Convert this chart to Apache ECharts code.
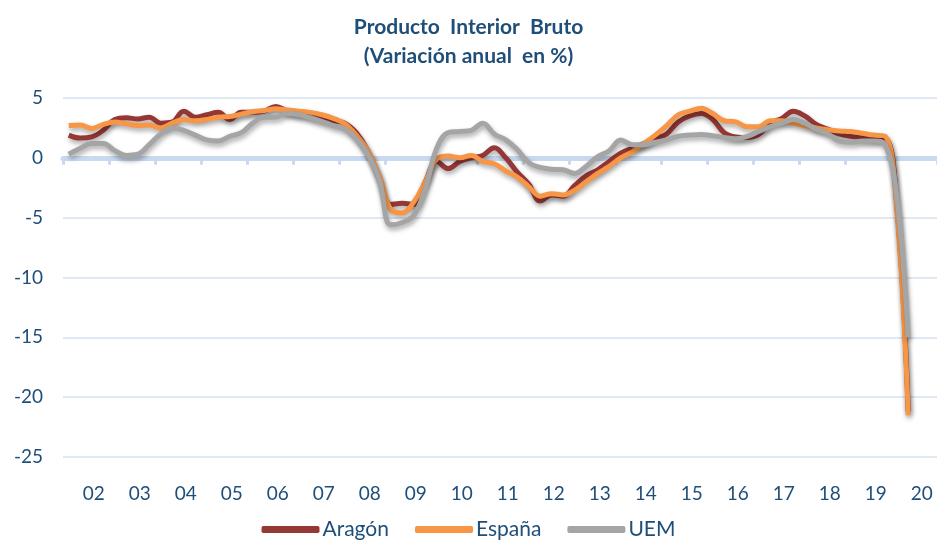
<!DOCTYPE html>
<html>
<head>
<meta charset="utf-8">
<script src="https://cdn.jsdelivr.net/npm/echarts@6/dist/echarts.min.js"></script>
<style>
  html,body{margin:0;padding:0;background:#fff}
  #myChart{width:937px;height:540px}
</style>
</head>
<body>
<div id="myChart"></div>
<script>
// años (etiquetas del eje) y trimestres 2002T1..2020T4
let years=['02','03','04','05','06','07','08','09','10','11','12','13','14','15','16','17','18','19','20']
let quarters=[]
years.forEach(y=>{
  for(let q=1;q<=4;q++) quarters.push(y+'T'+q)
})

// Variación anual en %, 2002T1 - 2020T2
let aragon=[
  1.9,1.65,1.75,2.3, 3.2,3.35,3.25,3.4, 2.9,3.0,3.9,3.4, 3.6,3.8,3.2,3.8,
  3.8,3.9,4.3,3.9, 3.7,3.55,3.3,3.1, 2.9,2.1,0.6,-1.7, -3.9,-3.8,-3.9,-2.0,
  -0.3,-0.9,-0.3,0.0, 0.2,0.85,0.0,-1.2, -2.2,-3.6,-3.1,-3.2, -2.3,-1.5,-1.0,-0.3,
  0.4,0.8,1.2,1.6, 2.0,3.0,3.5,3.7, 3.2,2.1,1.75,1.7, 1.95,2.9,3.3,3.9,
  3.5,2.8,2.4,2.0, 1.8,1.7,1.6,1.6, -3.8,-21.2
]
let espana=[
  2.7,2.75,2.45,2.8, 3.0,2.85,2.7,2.75, 2.5,2.9,3.2,3.1, 3.2,3.4,3.45,3.65,
  3.85,3.95,4.1,4.0, 3.9,3.8,3.6,3.3, 2.85,1.9,0.6,-1.5, -4.3,-4.6,-3.7,-2.0,
  -0.1,0.15,0.0,0.2, -0.3,-0.5,-1.1,-1.6, -2.4,-3.2,-3.0,-3.1, -2.7,-2.0,-1.3,-0.7,
  0.0,0.5,1.2,1.9, 2.7,3.6,3.9,4.15, 3.7,3.1,3.0,2.6, 2.6,3.1,3.1,2.9,
  2.7,2.5,2.35,2.25, 2.2,2.05,1.9,1.8, -4.2,-21.5
]
let uem=[
  0.3,0.8,1.2,1.2, 0.6,0.2,0.3,1.1, 2.0,2.5,2.3,1.9, 1.5,1.4,1.8,2.1,
  2.9,3.4,3.4,3.7, 3.6,3.35,3.05,2.7, 2.4,1.6,0.3,-1.8, -5.6,-5.4,-4.8,-2.6,
  0.8,2.1,2.2,2.3, 2.9,2.0,1.5,0.7, -0.4,-0.8,-0.95,-1.0, -1.3,-0.7,0.1,0.6,
  1.5,1.1,1.1,1.3, 1.5,1.8,1.9,1.95, 1.85,1.7,1.6,1.8, 2.2,2.6,2.9,3.2,
  2.9,2.4,2.0,1.4, 1.3,1.4,1.4,1.1, -3.2,-15.0
]

let azul='#1f4e79'
let sombra={shadowColor:'rgba(0,0,0,0.35)',shadowBlur:5,shadowOffsetX:1,shadowOffsetY:3}

let myChart=echarts.init(document.getElementById('myChart'))
let options={
  textStyle:{fontFamily:'Lato'},
  title:{
    text:'Producto  Interior  Bruto\n(Variación anual  en %)',
    left:'center',
    top:8,
    textStyle:{
      color:azul,
      fontSize:21,
      fontWeight:'bold',
      lineHeight:29,
      fontFamily:'Lato'
    }
  },
  legend:{
    bottom:-5,
    left:'center',
    itemWidth:58,
    itemHeight:7,
    itemGap:26,
    icon:'roundRect',
    textStyle:{color:azul,fontSize:21,padding:[0,0,0,-2]},
    data:['Aragón','España','UEM']
  },
  grid:{
    left:63,
    right:0,
    top:98,
    bottom:83
  },
  xAxis:[
    {
      type:'category',
      data:quarters,
      position:'bottom',
      boundaryGap:true,
      axisLine:{show:false,onZero:false},
      axisTick:{show:false},
      axisLabel:{
        color:azul,
        fontSize:19,
        margin:27,
        padding:[0,0,0,4],
        interval:(idx)=>idx%4===2,
        formatter:(v)=>v.slice(0,2)
      },
      splitLine:{show:false}
    },
    {
      type:'category',
      data:quarters,
      position:'bottom',
      boundaryGap:true,
      axisLine:{show:true,onZero:true,onZeroAxisIndex:0,lineStyle:{color:'#c9daf0',width:5}},
      axisTick:{show:true,interval:3,length:7,lineStyle:{color:'#c9daf0',width:3}},
      axisLabel:{show:false},
      splitLine:{show:false}
    }
  ],
  yAxis:{
    type:'value',
    min:-25,
    max:5,
    interval:5,
    axisLine:{show:false},
    axisTick:{show:false},
    axisLabel:{color:azul,fontSize:19,margin:20},
    splitLine:{lineStyle:{color:'#d6e1f0',width:1.5}}
  },
  series:[
    {
      name:'Aragón',
      type:'line',
      data:aragon,
      smooth:0.4,
      showSymbol:false,
      symbol:'none',
      color:'#953735',
      lineStyle:Object.assign({width:5,color:'#953735'},sombra)
    },
    {
      name:'España',
      type:'line',
      data:espana,
      smooth:0.4,
      showSymbol:false,
      symbol:'none',
      color:'#f79646',
      lineStyle:Object.assign({width:5,color:'#f79646'},sombra)
    },
    {
      name:'UEM',
      type:'line',
      data:uem,
      smooth:0.4,
      showSymbol:false,
      symbol:'none',
      color:'#a5a5a5',
      lineStyle:Object.assign({width:5,color:'#a5a5a5'},sombra)
    }
  ],
  animation:false
}
myChart.setOption(options)
</script>
</body>
</html>
